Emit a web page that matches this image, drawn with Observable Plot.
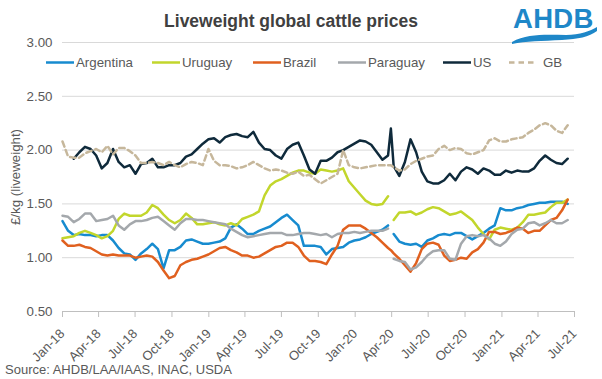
<!DOCTYPE html>
<html>
<head>
<meta charset="utf-8">
<script src="https://cdn.jsdelivr.net/npm/d3@7"></script>
<script src="https://cdn.jsdelivr.net/npm/@observablehq/plot@0.6"></script>
<style>
  body { margin: 0; background: #fff; }
  #wrap { position: relative; width: 602px; height: 379px; overflow: hidden; background: #fff;
          font-family: "Liberation Sans", Arial, sans-serif; color: #595959; }
  #wrap > svg { position: absolute; left: 0; top: 0; }
</style>
</head>
<body>
<div id="wrap"></div>
<script>
// ---------------- DATA ----------------
// fortnightly observation dates (one extra week, 2020-03-30, where some series have a gap)
const dates = [
  "2018-01-01","2018-01-15","2018-01-29","2018-02-12","2018-02-26","2018-03-12","2018-03-26","2018-04-09","2018-04-23","2018-05-07",
  "2018-05-21","2018-06-04","2018-06-18","2018-07-02","2018-07-16","2018-07-30","2018-08-13","2018-08-27","2018-09-10","2018-09-24",
  "2018-10-08","2018-10-22","2018-11-05","2018-11-19","2018-12-03","2018-12-17","2018-12-31","2019-01-14","2019-01-28","2019-02-11",
  "2019-02-25","2019-03-11","2019-03-25","2019-04-08","2019-04-22","2019-05-06","2019-05-20","2019-06-03","2019-06-17","2019-07-01",
  "2019-07-15","2019-07-29","2019-08-12","2019-08-26","2019-09-09","2019-09-23","2019-10-07","2019-10-21","2019-11-04","2019-11-18",
  "2019-12-02","2019-12-16","2019-12-30","2020-01-13","2020-01-27","2020-02-10","2020-02-24","2020-03-09","2020-03-23","2020-03-30",
  "2020-04-06","2020-04-20","2020-05-04","2020-05-18","2020-06-01","2020-06-15","2020-06-29","2020-07-13","2020-07-27","2020-08-10",
  "2020-08-24","2020-09-07","2020-09-21","2020-10-05","2020-10-19","2020-11-02","2020-11-16","2020-11-30","2020-12-14","2020-12-28",
  "2021-01-11","2021-01-25","2021-02-08","2021-02-22","2021-03-08","2021-03-22","2021-04-05","2021-04-19","2021-05-03","2021-05-17",
  "2021-05-31","2021-06-14"
];

const argentina = [
  1.34,1.25,1.21,1.22,1.21,1.21,1.20,1.21,1.21,1.16,
  1.09,1.04,1.03,0.98,1.04,1.08,1.13,1.08,0.90,1.07,
  1.07,1.10,1.16,1.17,1.15,1.13,1.13,1.14,1.15,1.18,
  1.28,1.31,1.27,1.22,1.22,1.25,1.27,1.29,1.33,1.37,
  1.40,1.35,1.30,1.11,1.11,1.11,1.10,1.03,1.08,1.09,
  1.10,1.14,1.16,1.17,1.19,1.22,1.24,1.26,1.30,null,
  1.22,1.15,1.13,1.12,1.13,1.10,1.16,1.18,1.21,1.22,
  1.21,1.23,1.23,1.20,1.17,1.20,1.23,1.27,1.30,1.46,
  1.44,1.44,1.46,1.47,1.49,1.50,1.51,1.51,1.52,1.52,
  1.52,1.50
];
const uruguay = [
  1.18,1.19,1.20,1.23,1.25,1.23,1.21,1.18,1.20,1.25,
  1.36,1.41,1.39,1.39,1.39,1.42,1.49,1.46,1.40,1.35,
  1.32,1.35,1.41,1.37,1.31,1.31,1.32,1.33,1.31,1.30,
  1.32,1.30,1.36,1.38,1.40,1.43,1.58,1.67,1.71,1.73,
  1.76,1.79,1.81,1.81,1.79,1.78,1.82,1.81,1.80,1.81,
  1.83,1.71,1.65,1.59,1.53,1.50,1.49,1.50,1.57,null,
  1.35,1.42,1.42,1.43,1.40,1.42,1.45,1.47,1.46,1.43,
  1.40,1.41,1.43,1.39,1.35,1.28,1.22,1.17,1.26,1.28,
  1.27,1.26,1.28,1.33,1.40,1.40,1.41,1.42,1.47,1.51,
  1.51,1.54
];
const brazil = [
  1.16,1.11,1.11,1.12,1.10,1.09,1.06,1.03,1.02,1.03,
  1.02,1.02,1.02,1.00,1.01,1.02,1.01,0.96,0.88,0.81,
  0.83,0.93,0.96,0.98,0.99,1.01,1.03,1.06,1.09,1.10,
  1.07,1.05,1.02,1.02,1.00,1.01,1.04,1.07,1.10,1.11,
  1.14,1.14,1.10,1.02,0.97,0.97,0.96,0.94,1.03,1.11,
  1.26,1.30,1.30,1.30,1.27,1.23,1.19,1.14,1.09,1.07,
  1.04,0.99,0.93,0.87,0.95,1.08,1.13,1.14,1.12,1.02,
  0.97,0.98,1.00,0.99,1.05,1.08,1.14,1.24,1.24,1.22,
  1.23,1.25,1.28,1.27,1.23,1.25,1.25,1.30,1.35,1.37,
  1.44,1.54
];
const paraguay = [
  1.39,1.38,1.33,1.36,1.41,1.41,1.34,1.35,1.36,1.39,
  1.30,1.26,1.31,1.34,1.34,1.35,1.37,1.38,1.34,1.30,
  1.26,1.32,1.36,1.36,1.35,1.35,1.34,1.33,1.32,1.31,
  1.27,1.24,1.21,1.19,1.20,1.21,1.22,1.23,1.23,1.23,
  1.21,1.21,1.22,1.23,1.23,1.22,1.21,1.22,1.19,1.22,
  1.23,1.23,1.24,1.23,1.24,1.25,1.25,1.25,1.27,null,
  0.99,0.97,0.96,0.89,0.91,0.96,1.02,1.06,1.07,1.07,
  0.99,0.98,1.13,1.20,1.21,1.20,1.21,1.18,1.13,1.11,
  1.15,1.22,1.26,1.27,1.32,1.33,1.30,1.32,1.35,1.32,
  1.32,1.35
];
const us = [
  null,null,1.92,1.98,2.03,2.01,1.95,1.83,1.88,2.01,
  1.89,1.84,1.86,1.78,1.87,1.88,1.92,1.84,1.84,1.86,
  1.86,1.88,1.94,1.96,2.01,2.06,2.10,2.11,2.07,2.12,
  2.14,2.15,2.13,2.12,2.17,2.07,2.01,2.00,1.95,1.92,
  2.01,2.05,2.07,1.95,1.82,1.78,1.90,1.90,1.93,1.98,
  2.00,2.03,2.06,2.09,2.08,2.05,1.98,1.91,1.95,2.20,
  1.85,1.76,1.89,2.10,1.98,1.80,1.71,1.69,1.69,1.72,
  1.78,1.72,1.80,1.84,1.82,1.78,1.83,1.81,1.77,1.77,
  1.81,1.79,1.81,1.80,1.80,1.83,1.90,1.95,1.91,1.88,
  1.87,1.92
];
const gb = [
  2.08,1.94,1.93,1.93,1.97,1.99,2.01,1.98,2.04,1.96,
  2.02,2.02,1.99,1.95,1.88,1.88,1.89,1.88,1.86,1.89,
  1.86,1.84,1.87,1.89,1.88,1.86,2.01,1.90,1.86,1.86,
  1.85,1.83,1.84,1.86,1.89,1.86,1.83,1.81,1.82,1.81,
  1.79,1.78,1.80,1.76,1.77,1.73,1.69,1.72,1.75,1.78,
  2.00,1.86,1.84,1.83,1.84,1.85,1.86,1.86,1.86,1.86,
  1.84,1.81,1.82,1.87,1.90,1.92,1.94,1.95,2.01,2.04,
  2.00,2.02,2.01,1.97,1.96,1.98,2.00,2.09,2.11,2.08,
  2.08,2.10,2.11,2.12,2.16,2.19,2.23,2.25,2.23,2.18,
  2.16,2.23
];

const seriesNames = ["Argentina", "Uruguay", "Brazil", "Paraguay", "US", "GB"];
const seriesColors = ["#178bcf", "#c2d62c", "#e0601f", "#a4a8ac", "#0f2a3b", "#c6b79b"];
const yTickValues = [0.5, 1.0, 1.5, 2.0, 2.5, 3.0];
const xTickDates = ["2018-01-01","2018-04-01","2018-07-01","2018-10-01","2019-01-01","2019-04-01","2019-07-01","2019-10-01",
                    "2020-01-01","2020-04-01","2020-07-01","2020-10-01","2021-01-01","2021-04-01","2021-07-01"];
const titleText = "Liveweight global cattle prices";
const yLabelText = "£/kg (liveweight)";
const sourceText = "Source: AHDB/LAA/IAAS, INAC, USDA";

// ---------------- BUILD ----------------
const FONT = '"Liberation Sans", Arial, sans-serif';
const valuesByName = { Argentina: argentina, Uruguay: uruguay, Brazil: brazil, Paraguay: paraguay, US: us, GB: gb };
const rows = seriesNames.flatMap(name =>
  dates.map((d, i) => ({ date: new Date(d), value: valuesByName[name][i], name }))
);
const solidRows = rows.filter(r => r.name !== "GB");
const gbRows = rows.filter(r => r.name === "GB");
const fmtX = d3.utcFormat("%b-%y");

const chart = Plot.plot({
  width: 602,
  height: 379,
  marginLeft: 62,
  marginRight: 28,
  marginTop: 42,
  marginBottom: 68,
  style: { fontFamily: FONT, fontSize: "13.3px", color: "#595959", background: "transparent" },
  x: { type: "utc", domain: [new Date("2018-01-01"), new Date("2021-07-01")] },
  y: { domain: [0.5, 3.0] },
  color: { domain: seriesNames, range: seriesColors },
  marks: [
    Plot.gridY(yTickValues.slice(1), { stroke: "#d9d9d9", strokeOpacity: 1 }),
    Plot.ruleY([0.5], { stroke: "#bfbfbf" }),
    Plot.axisY({ ticks: yTickValues, tickSize: 0, tickPadding: 10, tickFormat: d => d.toFixed(2),
                 label: null, fill: "#595959", fontSize: 13.3 }),
    Plot.axisX({ ticks: xTickDates.map(d => new Date(d)), tickSize: 6, tickPadding: 14, tickRotate: -45,
                 textAnchor: "end", lineAnchor: "middle", tickFormat: fmtX,
                 stroke: "#bfbfbf", fill: "#595959", fontSize: 13, label: null }),
    Plot.line(solidRows, { x: "date", y: "value", z: "name", stroke: "name", strokeWidth: 2.5,
                           strokeLinejoin: "round", curve: "linear" }),
    Plot.line(gbRows, { x: "date", y: "value", stroke: "name", strokeWidth: 2.5,
                        strokeDasharray: "5.5,3.5" })
  ]
});
const wrap = document.getElementById("wrap");
wrap.appendChild(chart);

// ---------------- OVERLAY (title, legend, labels, logo) ----------------
const NS = "http://www.w3.org/2000/svg";
const ov = d3.select(wrap).append(() => document.createElementNS(NS, "svg"))
  .attr("width", 602).attr("height", 379)
  .style("font-family", FONT);

ov.append("text").attr("x", 291).attr("y", 26.5).attr("text-anchor", "middle")
  .attr("font-size", 17.5).attr("font-weight", "bold").attr("fill", "#404040").text(titleText);

// legend
const legendLineX = [46, 152, 253, 338, 443, 509];
const legendTextX = [76, 182, 283, 368, 473, 543];
const legendY = 62.5;
seriesNames.forEach((name, i) => {
  ov.append("line").attr("x1", legendLineX[i]).attr("x2", legendLineX[i] + 28)
    .attr("y1", legendY).attr("y2", legendY)
    .attr("stroke", seriesColors[i]).attr("stroke-width", 2.5)
    .attr("stroke-dasharray", name === "GB" ? "5.5,4" : null);
  ov.append("text").attr("x", legendTextX[i]).attr("y", legendY + 4.6)
    .attr("font-size", 13.3).attr("fill", "#595959").text(name);
});

// y-axis title
ov.append("text").attr("transform", "translate(20,177) rotate(-90)").attr("text-anchor", "middle")
  .attr("font-size", 13.3).attr("fill", "#595959").text(yLabelText);

// source
ov.append("text").attr("x", 5).attr("y", 374).attr("font-size", 13).attr("fill", "#595959").text(sourceText);

// AHDB logo
ov.append("text").attr("x", 513).attr("y", 28).attr("font-size", 27.5).attr("font-weight", "bold")
  .attr("letter-spacing", 0.3).attr("fill", "#1e87c8").text("AHDB");
ov.append("path")
  .attr("d", "M512,42 C528,33 548,35 566,35 C580,35 590,31 597,27 L597,31 C589,37 578,39 562,40 C542,41 526,41 512,44 Z")
  .attr("fill", "#1e87c8");
</script>
</body>
</html>
